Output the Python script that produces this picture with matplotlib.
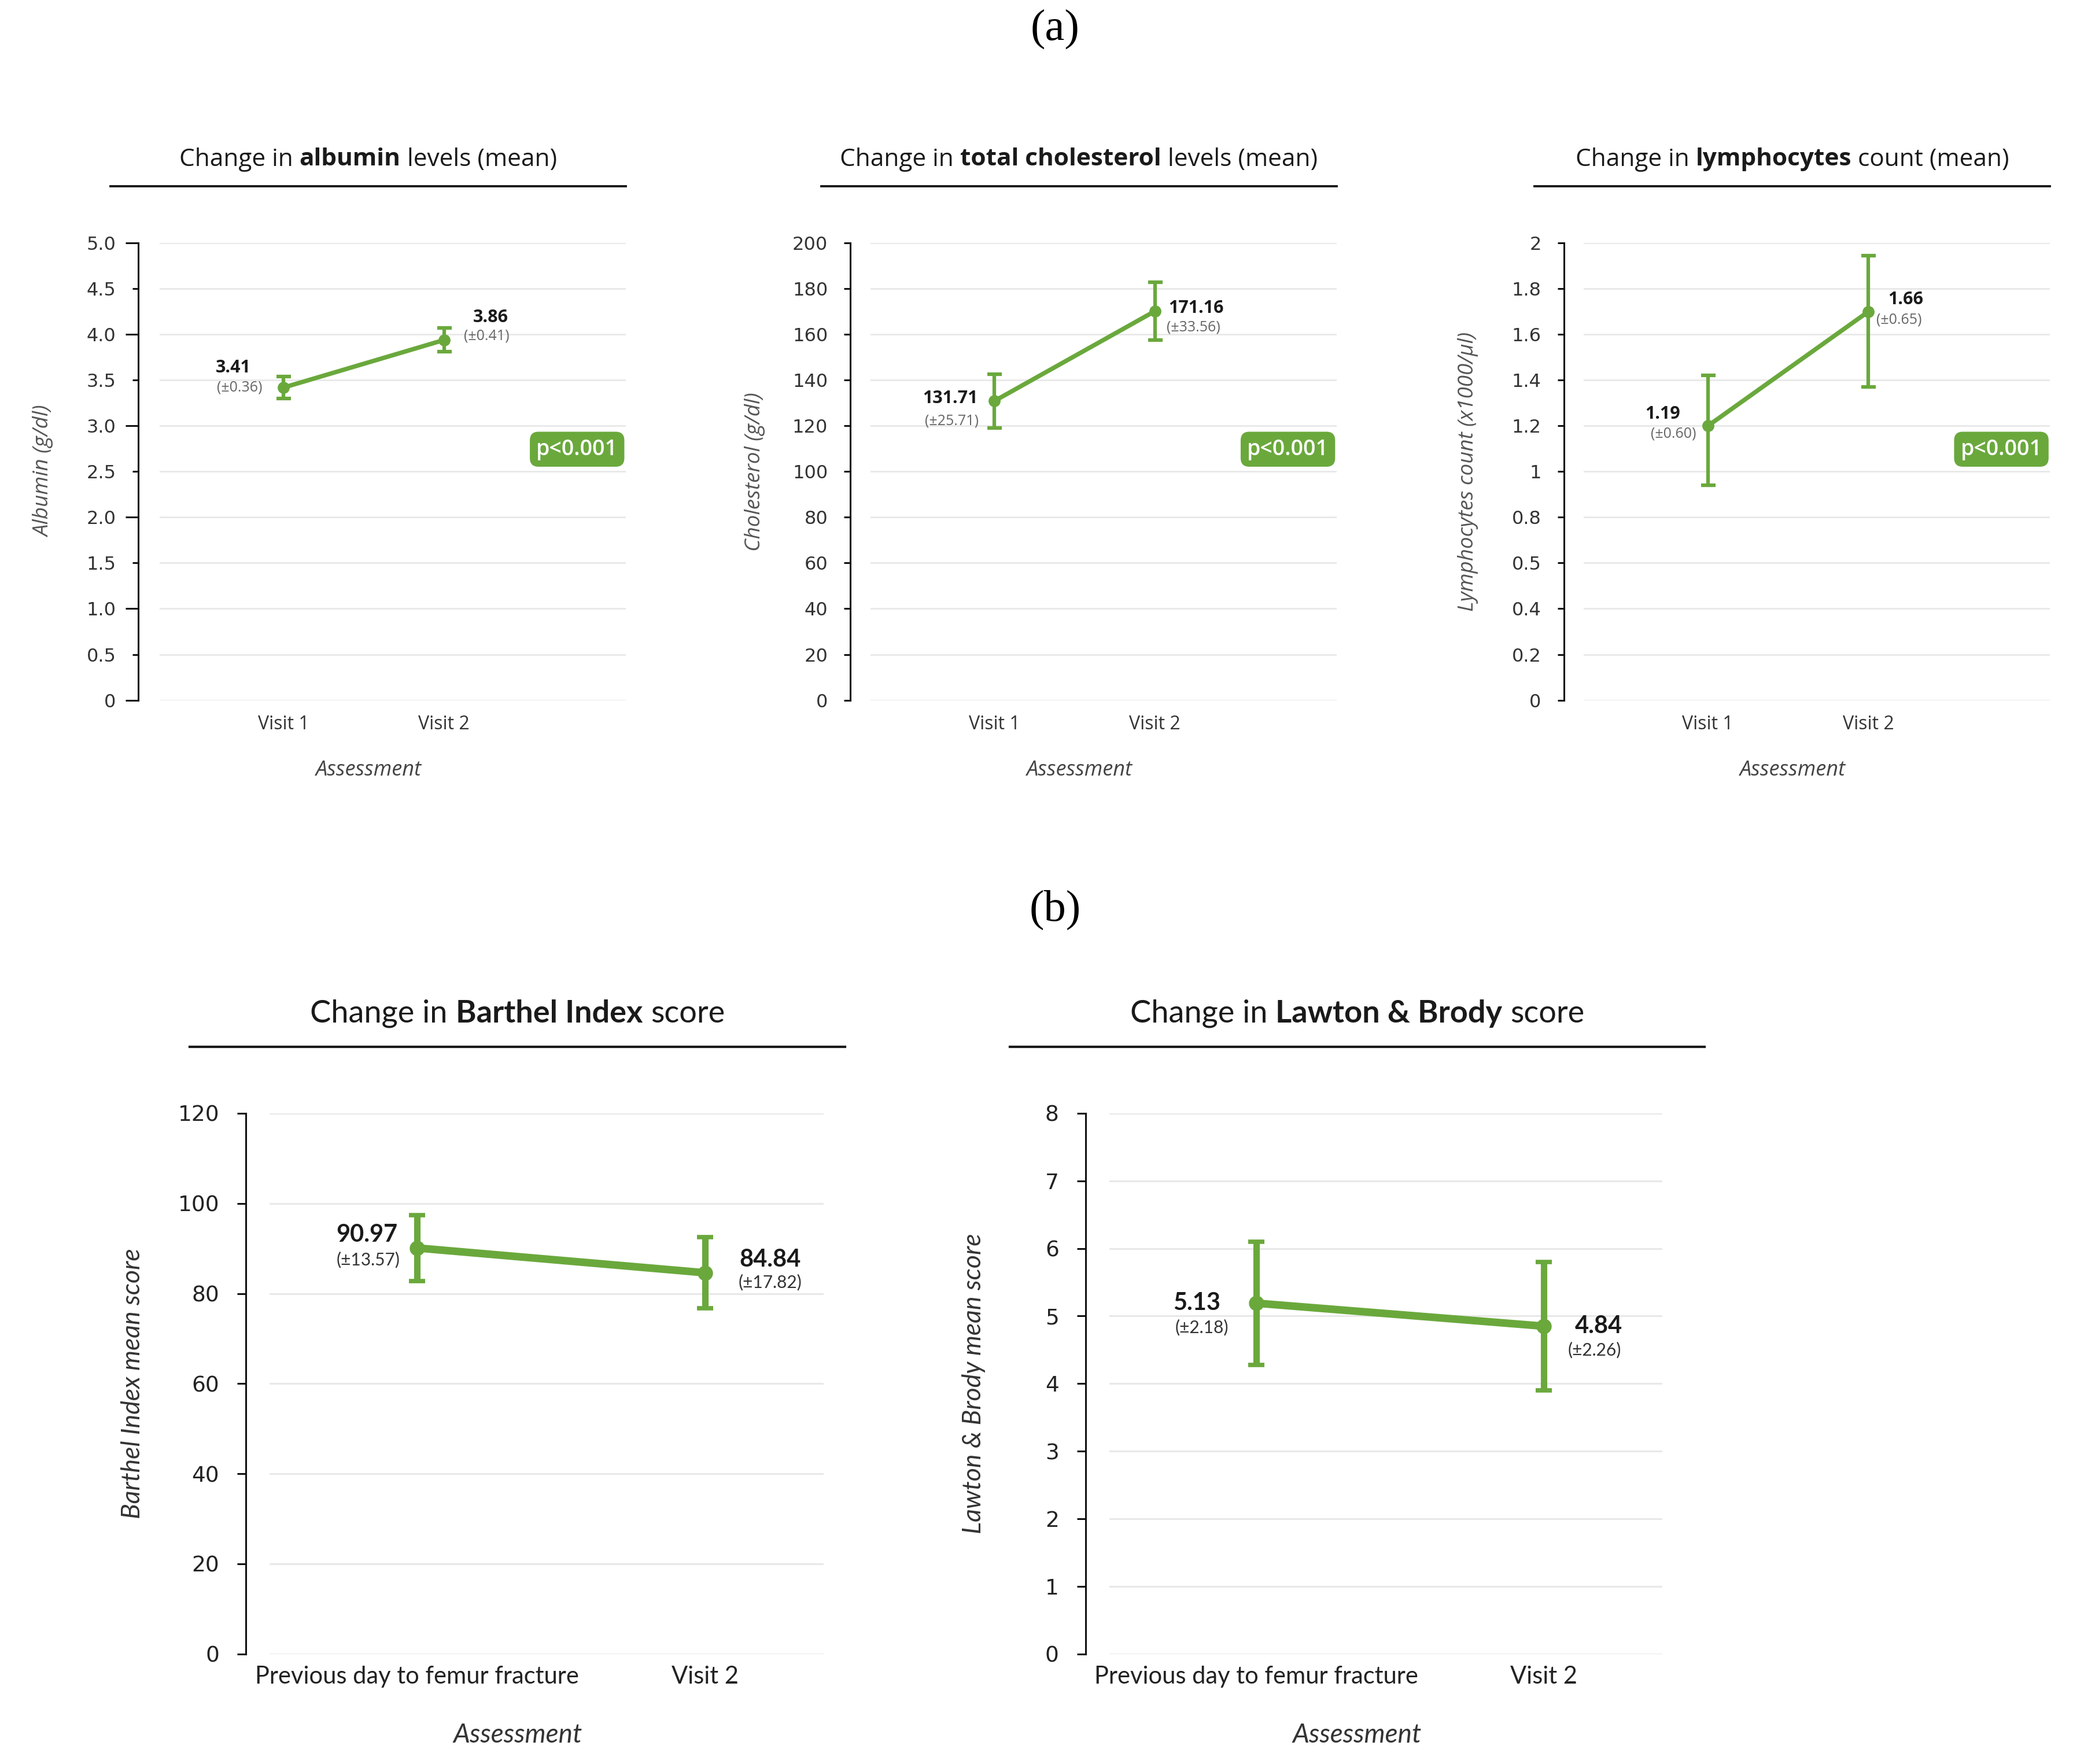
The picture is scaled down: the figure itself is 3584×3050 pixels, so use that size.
import matplotlib
matplotlib.use('Agg')
import matplotlib.pyplot as plt
from matplotlib.lines import Line2D

# ---------------- data ----------------
visits_a = ['Visit 1', 'Visit 2']
visits_b = ['Previous day to femur fracture', 'Visit 2']

albumin_mean = [3.42, 3.94]
albumin_err = [0.12, 0.13]
albumin_labels = ['3.41', '3.86']
albumin_sd = ['(±0.36)', '(±0.41)']
albumin_ticks = [0, 0.5, 1.0, 1.5, 2.0, 2.5, 3.0, 3.5, 4.0, 4.5, 5.0]
albumin_ticklabels = ['0', '0.5', '1.0', '1.5', '2.0', '2.5', '3.0', '3.5', '4.0', '4.5', '5.0']

chol_mean = [130.9, 170.2]
chol_err = [11.8, 12.7]
chol_labels = ['131.71', '171.16']
chol_sd = ['(±25.71)', '(±33.56)']
chol_ticks = [0, 20, 40, 60, 80, 100, 120, 140, 160, 180, 200]
chol_ticklabels = ['0', '20', '40', '60', '80', '100', '120', '140', '160', '180', '200']

lymph_mean = [1.20, 1.70]
lymph_err_low = [0.26, 0.33]
lymph_err_high = [0.22, 0.245]
lymph_labels = ['1.19', '1.66']
lymph_sd = ['(±0.60)', '(±0.65)']
lymph_ticks = [0, 0.2, 0.4, 0.6, 0.8, 1.0, 1.2, 1.4, 1.6, 1.8, 2.0]
lymph_ticklabels = ['0', '0.2', '0.4', '0.5', '0.8', '1', '1.2', '1.4', '1.6', '1.8', '2']

barthel_mean = [90.1, 84.6]
barthel_err = [7.3, 7.9]
barthel_labels = ['90.97', '84.84']
barthel_sd = ['(±13.57)', '(±17.82)']
barthel_ticks = [0, 20, 40, 60, 80, 100, 120]
barthel_ticklabels = ['0', '20', '40', '60', '80', '100', '120']

lawton_mean = [5.19, 4.85]
lawton_err = [0.91, 0.95]
lawton_labels = ['5.13', '4.84']
lawton_sd = ['(±2.18)', '(±2.26)']
lawton_ticks = [0, 1, 2, 3, 4, 5, 6, 7, 8]
lawton_ticklabels = ['0', '1', '2', '3', '4', '5', '6', '7', '8']

# ---------------- layout helpers ----------------
FW, FH = 3584, 3050
S = 2.297                # display-unit -> pixel
PXPT = 100 / 72.0        # pixels per point at dpi 100


def fx(d):
    return d * S / FW


def fy(d):
    return 1 - d * S / FH


def d2pt(d):
    return d * S / PXPT


GREEN = '#6aa83c'
FONT_A = ['Open Sans', 'DejaVu Sans']
FONT_B = ['Lato', 'DejaVu Sans']
SERIF = ['Liberation Serif', 'DejaVu Serif']

fig = plt.figure(figsize=(FW / 100, FH / 100), dpi=100)
fig.patch.set_facecolor('white')
renderer = fig.canvas.get_renderer()


def text_w(s, **kw):
    t = fig.text(0, 0, s, **kw)
    w = t.get_window_extent(renderer).width
    t.remove()
    return w


def rich(xc, y, parts, size, family, color):
    kw = dict(fontsize=size, family=family)
    sp = text_w('a a', **kw) - text_w('aa', **kw)
    items = []
    for s, wt in parts:
        t = fig.text(0, y, s, fontsize=size, family=family, fontweight=wt,
                     color=color, ha='left', va='center')
        w = t.get_window_extent(renderer).width
        items.append((t, w))
    total = sum(w for _, w in items) + sp * (len(items) - 1)
    x = xc * FW - total / 2
    for t, w in items:
        t.set_x(x / FW)
        x += w + sp


def panel(geom, cats, mean, err, labels, sds, ticks, ticklabels, title_parts,
          ylabel, st, offsets):
    gl, gr, sp, top, bot, ul_l, ul_r, title_y, ul_y, yl_x, ass_y, xlim = geom
    ax = fig.add_axes([fx(gl), fy(bot), fx(gr) - fx(gl), fy(top) - fy(bot)])
    xs = list(range(len(cats)))
    ax.errorbar(xs, mean, yerr=err, color=GREEN, lw=st['lw'], marker='o',
                ms=st['ms'], capsize=st['cap'], capthick=st['capthick'],
                elinewidth=st['elw'], zorder=3, clip_on=False)
    ax.set_xlim(*xlim)
    ax.set_ylim(ticks[0], ticks[-1])
    ax.tick_params(axis='x', length=0, pad=st['xpad'],
                   labelsize=st['xt_fs'], labelcolor=st['tick_c'])
    ax.tick_params(axis='y', length=st['tlen'], width=st['spw'],
                   pad=st['ypad'], color='#111', labelsize=st['tick_fs'],
                   labelcolor=st['tick_c'])
    ax.set_yticks(ticks)
    ax.set_yticklabels(ticklabels)
    ax.set_xticks(xs)
    ax.set_xticklabels(cats)
    for lab in ax.get_xticklabels() + ax.get_yticklabels():
        lab.set_fontfamily(st['font'])
    for lab in ax.get_xticklabels():
        lab.set_va('center')
    for s in ['top', 'right', 'bottom']:
        ax.spines[s].set_visible(False)
    ax.spines['left'].set_position(('outward', d2pt(gl - sp)))
    ax.spines['left'].set_linewidth(st['spw'])
    ax.spines['left'].set_color('#111')
    ax.yaxis.grid(True, color='#e8e8e8', lw=st['glw'])
    ax.set_axisbelow(True)
    if st.get('alt'):
        for i, tk in enumerate(ax.yaxis.get_major_ticks()):
            if i % 2 == 1:
                tk.tick1line.set_markersize(st['tlen'] * 0.46)
    # value annotations
    for i in xs:
        (dx1, dy1), (dx2, dy2) = offsets[i]
        ax.annotate(labels[i], xy=(i, mean[i]), xytext=(d2pt(dx1), -d2pt(dy1)),
                    textcoords='offset points', ha='center', va='center',
                    fontsize=st['val_fs'], fontweight='bold', family=st['font'],
                    color='#1a1a1a')
        ax.annotate(sds[i], xy=(i, mean[i]), xytext=(d2pt(dx2), -d2pt(dy2)),
                    textcoords='offset points', ha='center', va='center',
                    fontsize=st['sd_fs'], family=st['font'], color=st['sd_c'])
    # title + underline
    xc = fx((ul_l + ul_r) / 2)
    rich(xc, fy(title_y), title_parts, st['title_fs'], st['font'], '#1a1a1a')
    fig.add_artist(Line2D([fx(ul_l), fx(ul_r)], [fy(ul_y), fy(ul_y)],
                          color='#1a1a1a', lw=st['ulw']))
    # axis labels
    fig.text(fx(yl_x), fy((top + bot) / 2), ylabel, rotation=90, ha='center',
             va='center', fontsize=st['yl_fs'], style='italic',
             family=st['font'], color=st['yl_c'])
    fig.text(xc, fy(ass_y), 'Assessment', ha='center', va='center',
             fontsize=st['ass_fs'], style='italic', family=st['font'],
             color=st['ass_c'])
    return ax


style_a = dict(font=FONT_A, lw=5.5, ms=14, cap=9, capthick=4.5, elw=4.5,
               tick_fs=23, tick_c='#333333', xt_fs=23, xpad=30, tlen=11,
               spw=2.2, ypad=14, glw=2, val_fs=22, sd_fs=18, sd_c='#666666',
               title_fs=30.5, ulw=2.8, yl_fs=26.5, yl_c='#555555', ass_fs=26,
               ass_c='#444444')
style_b = dict(font=FONT_B, lw=9.5, ms=18, cap=10, capthick=5.5, elw=8,
               tick_fs=27, tick_c='#222222', xt_fs=30, xpad=28, tlen=11,
               spw=2.2, ypad=22, glw=2.2, val_fs=30, sd_fs=21.5, sd_c='#333333',
               title_fs=39, ulw=3, yl_fs=32, yl_c='#333333', ass_fs=33,
               ass_c='#333333')

XL_A = (-0.774, 2.133)
XL_B = (-0.512, 1.411)

# (a) panels
ga1 = (120, 471, 104, 183, 527, 83, 471, 120, 140, 33, 580, XL_A)
ga2 = (655, 1006, 640, 183, 527, 618, 1006, 120, 140, 568, 580, XL_A)
ga3 = (1192, 1543, 1177, 183, 527, 1155, 1543, 120, 140, 1105, 580, XL_A)

sa1 = dict(style_a, alt=True, tlen=15.6, ypad=12)
ax1 = panel(ga1, visits_a, albumin_mean, albumin_err, albumin_labels, albumin_sd,
            albumin_ticks, albumin_ticklabels,
            [('Change in', 'normal'), ('albumin', 'bold'), ('levels (mean)', 'normal')],
            'Albumin (g/dl)', sa1,
            [((-38, -15), (-33, 0)), ((35, -17), (32, -3))])
ax2 = panel(ga2, visits_a, chol_mean, chol_err, chol_labels, chol_sd,
            chol_ticks, chol_ticklabels,
            [('Change in', 'normal'), ('total cholesterol', 'bold'), ('levels (mean)', 'normal')],
            'Cholesterol (g/dl)', dict(style_a, tlen=8, ypad=20),
            [((-33, -2), (-32, 15)), ((31, -2), (29, 12))])
ax3 = panel(ga3, visits_a, lymph_mean, [lymph_err_low, lymph_err_high],
            lymph_labels, lymph_sd, lymph_ticks, lymph_ticklabels,
            [('Change in', 'normal'), ('lymphocytes', 'bold'), ('count (mean)', 'normal')],
            'Lymphocytes count (x1000/µl)', dict(style_a, tlen=8, ypad=20),
            [((-34, -9), (-26, 6)), ((28, -9), (23, 6))])

for ax in (ax1, ax2, ax3):
    ax.text(0.983, 0.549, 'p<0.001', transform=ax.transAxes, ha='right',
            va='center', fontsize=27, fontweight='semibold', family=FONT_A,
            color='white',
            bbox=dict(boxstyle='round,pad=0.3,rounding_size=0.4', fc=GREEN,
                      ec='none'))

# (b) panels
gb1 = (203, 620, 185, 838, 1245, 143, 636, 763, 788, 100, 1306, XL_B)
gb2 = (835, 1251, 817, 838, 1245, 760, 1283, 763, 788, 733, 1306, XL_B)
panel(gb1, visits_b, barthel_mean, barthel_err, barthel_labels, barthel_sd,
      barthel_ticks, barthel_ticklabels,
      [('Change in', 'normal'), ('Barthel Index', 'bold'), ('score', 'normal')],
      'Barthel Index mean score', style_b,
      [((-38, -10), (-37, 9)), ((49, -10), (49, 7))])
panel(gb2, visits_b, lawton_mean, lawton_err, lawton_labels, lawton_sd,
      lawton_ticks, lawton_ticklabels,
      [('Change in', 'normal'), ('Lawton & Brody', 'bold'), ('score', 'normal')],
      'Lawton & Brody mean score', style_b,
      [((-45, 0), (-41, 18)), ((41, 0), (38, 18))])

fig.text(fx(794), fy(22), '(a)', ha='center', va='center', fontsize=55,
         family=SERIF, color='black')
fig.text(fx(794), fy(685), '(b)', ha='center', va='center', fontsize=55,
         family=SERIF, color='black')

fig.savefig('out.png', dpi=100, facecolor='white')
